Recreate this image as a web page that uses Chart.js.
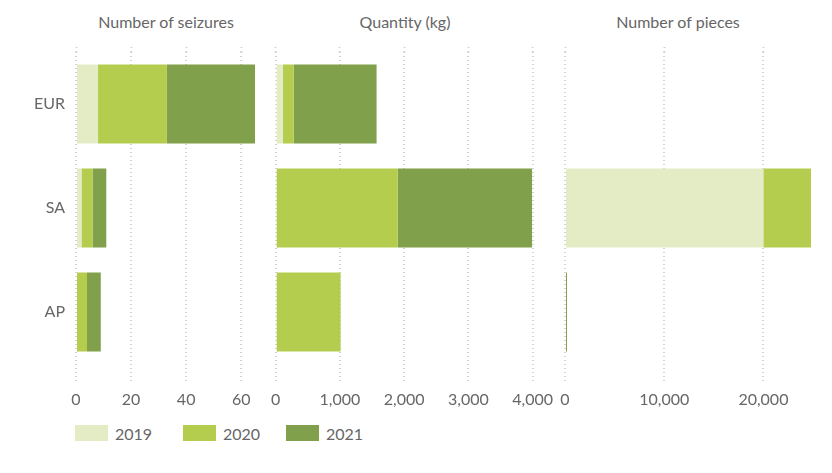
<!DOCTYPE html>
<html lang="en">
<head>
  <meta charset="UTF-8" />
  <title>Seizures by region</title>
  <script src="https://cdn.jsdelivr.net/npm/chart.js"></script>
  <style>
    body { margin: 0; background: #fff; font-family: Lato, sans-serif; color: #666; }
    #wrap { position: relative; width: 832px; height: 473px; overflow: hidden; }
    canvas { position: absolute; top: 0; }
    .title { position: absolute; top: 12px; font-size: 16px; transform: translateX(-50%); white-space: nowrap; }
    .leg { position: absolute; top: 425px; font-size: 16px; line-height: 18px; }
    .leg span { display: inline-block; width: 33px; height: 16px; vertical-align: top; margin-right: 7px; }
  </style>
</head>
<body>
<div id="wrap">
  <div class="title" style="left:166px">Number of seizures</div>
  <div class="title" style="left:405px">Quantity (kg)</div>
  <div class="title" style="left:678px">Number of pieces</div>

  <canvas id="c1" width="262" height="420" style="left:0"></canvas>
  <canvas id="c2" width="320" height="420" style="left:250px"></canvas>
  <canvas id="c3" width="292" height="420" style="left:540px"></canvas>

  <div class="leg" style="left:75px"><span style="background:#e3ecc4"></span>2019</div>
  <div class="leg" style="left:183px"><span style="background:#b4cd4f"></span>2020</div>
  <div class="leg" style="left:286px"><span style="background:#81a04b"></span>2021</div>
</div>

<script>
  // данные
  const regions = ['EUR', 'SA', 'AP'];
  const years = ['2019', '2020', '2021'];
  const colors = ['#e3ecc4', '#b4cd4f', '#81a04b'];

  const seizures2019 = [8, 2, 0];
  const seizures2020 = [25, 4, 4];
  const seizures2021 = [32, 5, 5];

  const kg2019 = [110, 0, 0];
  const kg2020 = [170, 1900, 1010];
  const kg2021 = [1290, 2090, 0];

  const pieces2019 = [0, 20000, 0];
  const pieces2020 = [0, 4800, 0];
  const pieces2021 = [0, 0, 200];

  const font = { family: 'Lato', size: 16 };
  const gridColor = '#d2d2d2';

  function makeChart(id, series, max, step, pad, showY) {
    return new Chart(document.getElementById(id), {
      type: 'bar',
      data: {
        labels: regions,
        datasets: series.map((d, i) => ({
          label: years[i],
          data: d,
          backgroundColor: colors[i],
          borderWidth: 0,
          barPercentage: 0.76,
          categoryPercentage: 1
        }))
      },
      options: {
        indexAxis: 'y',
        responsive: false,
        animation: false,
        locale: 'en-US',
        layout: { padding: { top: 47, left: pad[0], right: pad[1], bottom: 0 } },
        plugins: { legend: { display: false }, tooltip: { enabled: false } },
        scales: {
          x: {
            stacked: true,
            max: max,
            border: { display: false, dash: [1, 3] },
            grid: {
              color: gridColor,
              lineWidth: 2,
              tickColor: gridColor,
              tickWidth: 2,
              tickBorderDash: [1, 3],
              tickLength: 18
            },
            ticks: { stepSize: step, includeBounds: false, color: '#666', font: font, padding: 8, maxRotation: 0, autoSkip: false },
            afterFit: s => { s.height = 56; }
          },
          // только продолжение пунктирной сетки над областью графика
          xTop: {
            position: 'top',
            max: max,
            border: { display: false },
            grid: {
              drawOnChartArea: false,
              tickColor: gridColor,
              tickWidth: 2,
              tickBorderDash: [1, 3],
              tickLength: 5
            },
            ticks: { stepSize: step, includeBounds: false, display: false },
            afterDataLimits: s => { s.min = 0; s.max = max; },
            afterFit: s => { s.height = 5; }
          },
          y: {
            stacked: true,
            display: showY,
            border: { display: false },
            grid: { display: false, drawTicks: false },
            ticks: { color: '#666', font: font, padding: 11 },
            afterFit: s => { s.width = showY ? 76 : 0; }
          }
        }
      }
    });
  }

  makeChart('c1', [seizures2019, seizures2020, seizures2021], 65, 20, [0, 7], true);
  makeChart('c2', [kg2019, kg2020, kg2021], 4000, 1000, [25.7, 37.3], false);
  makeChart('c3', [pieces2019, pieces2020, pieces2021], 25000, 10000, [25, 19], false);
</script>
</body>
</html>
